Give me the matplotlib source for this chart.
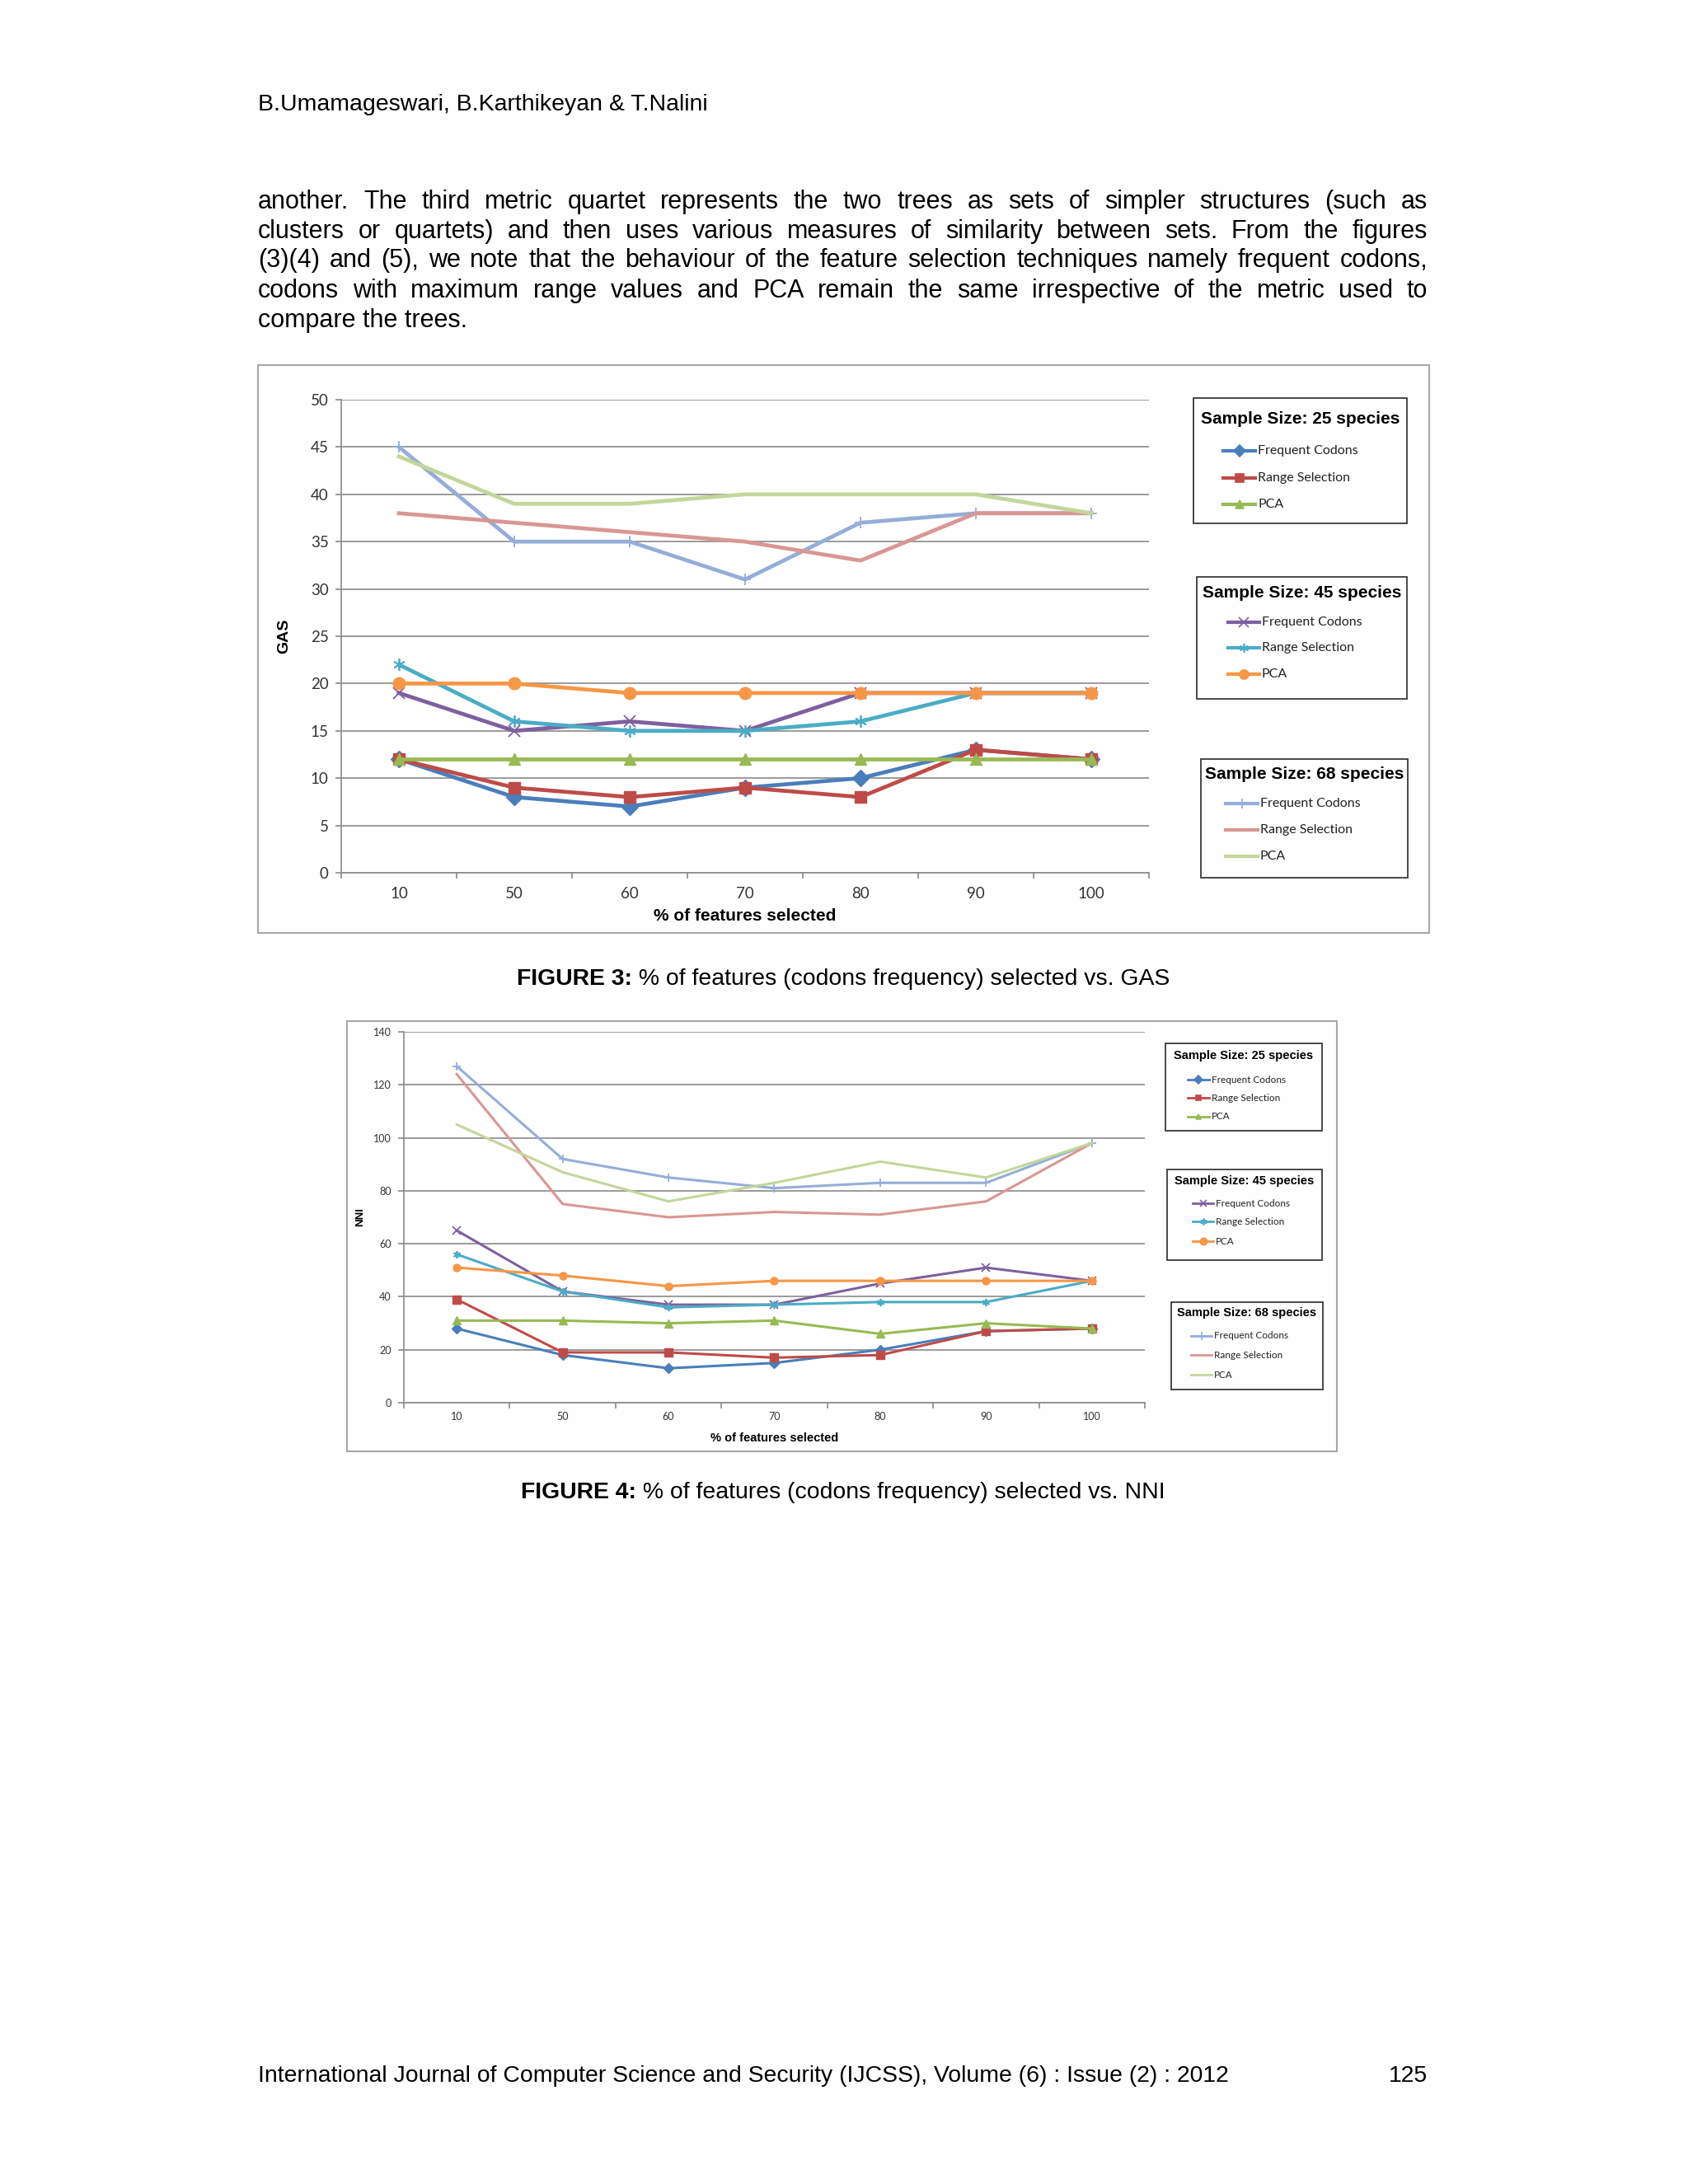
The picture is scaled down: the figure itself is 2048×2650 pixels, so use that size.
import matplotlib
matplotlib.use("Agg")
import matplotlib.pyplot as plt
from matplotlib.lines import Line2D
from matplotlib.patches import Rectangle

W, H = 2048, 2650

# ---- data ----
pct_labels = ['10', '50', '60', '70', '80', '90', '100']

gas_25_fc = [12, 8, 7, 9, 10, 13, 12]
gas_25_rs = [12, 9, 8, 9, 8, 13, 12]
gas_25_pca = [12, 12, 12, 12, 12, 12, 12]
gas_45_fc = [19, 15, 16, 15, 19, 19, 19]
gas_45_rs = [22, 16, 15, 15, 16, 19, 19]
gas_45_pca = [20, 20, 19, 19, 19, 19, 19]
gas_68_fc = [45, 35, 35, 31, 37, 38, 38]
gas_68_rs = [38, 37, 36, 35, 33, 38, 38]
gas_68_pca = [44, 39, 39, 40, 40, 40, 38]

nni_25_fc = [28, 18, 13, 15, 20, 27, 28]
nni_25_rs = [39, 19, 19, 17, 18, 27, 28]
nni_25_pca = [31, 31, 30, 31, 26, 30, 28]
nni_45_fc = [65, 42, 37, 37, 45, 51, 46]
nni_45_rs = [56, 42, 36, 37, 38, 38, 46]
nni_45_pca = [51, 48, 44, 46, 46, 46, 46]
nni_68_fc = [127, 92, 85, 81, 83, 83, 98]
nni_68_rs = [124, 75, 70, 72, 71, 76, 98]
nni_68_pca = [105, 87, 76, 83, 91, 85, 98]

method_names = ['Frequent Codons', 'Range Selection', 'PCA']
sample_titles = ['Sample Size: 25 species', 'Sample Size: 45 species', 'Sample Size: 68 species']

header = 'B.Umamageswari, B.Karthikeyan & T.Nalini'
para = [
    'another. The third metric quartet represents the two trees as sets of simpler structures (such as',
    'clusters or quartets) and then uses various measures of similarity between sets. From the figures',
    '(3)(4) and (5), we note that the behaviour of the feature selection techniques namely frequent codons,',
    'codons with maximum range values and PCA remain the same irrespective of the metric used to',
    'compare the trees.',
]
footer = 'International Journal of Computer Science and Security (IJCSS), Volume (6) : Issue (2) : 2012'
page_no = '125'

# styles: colour, marker per group
styles = [
    [('#4A7EBB', 'D'), ('#BE4B48', 's'), ('#98B954', '^')],
    [('#7D60A0', 'x'), ('#4BACC6', (6, 2, 0)), ('#F79646', 'o')],
    [('#95ADD8', '+'), ('#D99694', None), ('#C3D69B', None)],
]

BODY = ['Liberation Sans', 'DejaVu Sans']
CHART = ['Lato', 'DejaVu Sans']

fig = plt.figure(figsize=(W / 100, H / 100), dpi=100)
fig.patch.set_facecolor('#fefefe')
renderer = fig.canvas.get_renderer()


def fx(x):
    return x / W


def fy(y):
    return 1 - y / H


def text_w(t):
    return t.get_window_extent(renderer).width


def justify(line, x0, x1, y, fs):
    words = line.split()
    ts = [fig.text(0, fy(y), w, fontsize=fs, family=BODY, va='center') for w in words]
    ws = [text_w(t) for t in ts]
    gap = (x1 - x0 - sum(ws)) / (len(words) - 1)
    x = x0
    for t, w in zip(ts, ws):
        t.set_x(fx(x))
        x += w + gap


def caption(bold, rest, cx, y, fs):
    t1 = fig.text(0, fy(y), bold, fontsize=fs, family=BODY, weight='bold', va='center')
    t2 = fig.text(0, fy(y), rest, fontsize=fs, family=BODY, va='center')
    w1, w2 = text_w(t1), text_w(t2)
    x = cx - (w1 + w2) / 2
    t1.set_x(fx(x))
    t2.set_x(fx(x + w1))


def frame(x0, y0, x1, y1, color, lw):
    fig.add_artist(Rectangle((fx(x0), fy(y1)), (x1 - x0) / W, (y1 - y0) / H,
                             transform=fig.transFigure, fill=False,
                             edgecolor=color, lw=lw))


def legend_box(box, title, sty, title_y, rows, hx, tfs, fs, lw, ms):
    x0, y0, x1, y1 = box
    frame(x0, y0, x1, y1, '#3a3a3a', 1.3)
    fig.text(fx((x0 + x1) / 2), fy(title_y), title, fontsize=tfs, family=BODY,
             weight='bold', ha='center', va='center')
    for (c, m), name, ry in zip(sty, method_names, rows):
        xs = [fx(hx[0]), fx((hx[0] + hx[1]) / 2), fx(hx[1])]
        ln = Line2D(xs, [fy(ry)] * 3, transform=fig.transFigure, color=c, lw=lw,
                    marker=m, markevery=[1], markersize=ms, markeredgecolor=c,
                    markeredgewidth=1.2)
        fig.add_artist(ln)
        fig.text(fx(hx[1] + 3), fy(ry), name, fontsize=fs, family=CHART, va='center',
                 color='#222222')


def chart(rect, data, ymax, ystep, ylabel, tfs, lfs, lw, ms):
    ax = fig.add_axes(rect)
    x = range(len(pct_labels))
    for g, group in enumerate(data):
        for s, vals in enumerate(group):
            c, m = styles[g][s]
            mew = 1.3 if m in ('+', 'x', (6, 2, 0)) else 1
            ax.plot(x, vals, color=c, lw=lw, marker=m, markersize=ms,
                    markeredgecolor=c, markeredgewidth=mew, zorder=3)
    ax.set_xlim(-0.5, len(pct_labels) - 0.5)
    ax.set_ylim(0, ymax)
    ax.set_yticks(range(0, ymax + 1, ystep))
    ax.set_xticks(list(x))
    ax.set_xticklabels(pct_labels, fontsize=tfs, family=CHART, color='#333333')
    ax.set_xticks([i - 0.5 for i in range(len(pct_labels) + 1)], minor=True)
    ax.tick_params(axis='x', which='major', length=0, pad=tfs * 0.9)
    ax.tick_params(axis='x', which='minor', length=5, color='#8a8a8a', width=1.2)
    ax.tick_params(axis='y', length=5, color='#8a8a8a', width=1.2, pad=6)
    for lab in ax.get_yticklabels():
        lab.set_family(CHART)
        lab.set_fontsize(tfs)
        lab.set_color('#333333')
    ax.grid(axis='y', color='#8a8a8a', lw=1.2)
    ax.set_axisbelow(True)
    for sp in ['top', 'right']:
        ax.spines[sp].set_visible(False)
    for sp in ['left', 'bottom']:
        ax.spines[sp].set_color('#8a8a8a')
        ax.spines[sp].set_linewidth(1.2)
    ax.set_xlabel('% of features selected', fontsize=lfs, family=BODY, weight='bold')
    ax.set_ylabel(ylabel, fontsize=lfs - 1, family=BODY, weight='bold')
    return ax


# ---- page text ----
fig.text(fx(313), fy(127), header, fontsize=20.5, family=BODY, va='center')
line_ys = [245, 281, 316, 353, 389]
for i, (ln, yy) in enumerate(zip(para, line_ys)):
    if i < len(para) - 1:
        justify(ln, 313, 1732, yy, 22)
    else:
        fig.text(fx(313), fy(yy), ln, fontsize=22, family=BODY, va='center')

# ---- figure 3 ----
frame(313, 443, 1734, 1132, '#a8a8a8', 1.5)
ax1 = chart([fx(414), fy(1059), (1394 - 414) / W, (1059 - 485) / H],
            [[gas_25_fc, gas_25_rs, gas_25_pca],
             [gas_45_fc, gas_45_rs, gas_45_pca],
             [gas_68_fc, gas_68_rs, gas_68_pca]],
            50, 5, 'GAS', 13.5, 15, 3.4, 10.5)
ax1.xaxis.set_label_coords(0.5, -0.075)
ax1.yaxis.set_label_coords(-0.062, 0.5)
legend_box((1448, 483, 1707, 635), sample_titles[0], styles[0], 509, [547, 580, 612],
           (1484, 1523), 15, 11.5, 3, 7)
legend_box((1452, 700, 1707, 848), sample_titles[1], styles[1], 720, [755, 786, 818],
           (1490, 1528), 15, 11.5, 3, 8)
legend_box((1457, 921, 1708, 1065), sample_titles[2], styles[2], 940, [975, 1007, 1039],
           (1487, 1526), 15, 11.5, 3, 9)
caption('FIGURE 3:', ' % of features (codons frequency) selected vs. GAS', 1023, 1188, 20.4)

# ---- figure 4 ----
frame(421, 1239, 1622, 1761, '#a8a8a8', 1.5)
ax2 = chart([fx(490), fy(1702), (1389 - 490) / W, (1702 - 1252) / H],
            [[nni_25_fc, nni_25_rs, nni_25_pca],
             [nni_45_fc, nni_45_rs, nni_45_pca],
             [nni_68_fc, nni_68_rs, nni_68_pca]],
            140, 20, 'NNI', 9, 10.5, 2.2, 6.5)
ax2.xaxis.set_label_coords(0.5, -0.08)
ax2.yaxis.set_label_coords(-0.052, 0.5)
legend_box((1414, 1266, 1604, 1372), sample_titles[0], styles[0], 1281, [1310, 1332, 1355],
           (1441, 1467), 10.5, 8.5, 2, 5)
legend_box((1416, 1419, 1604, 1529), sample_titles[1], styles[1], 1433, [1460, 1482, 1506],
           (1447, 1472), 10.5, 8.5, 2, 6)
legend_box((1421, 1580, 1605, 1686), sample_titles[2], styles[2], 1593, [1621, 1644, 1668],
           (1445, 1470), 10.5, 8.5, 2, 7)
caption('FIGURE 4:', ' % of features (codons frequency) selected vs. NNI', 1023, 1811, 20.4)

# ---- footer ----
fig.text(fx(313), fy(2519), footer, fontsize=20.4, family=BODY, va='center')
fig.text(fx(1732), fy(2519), page_no, fontsize=20.4, family=BODY, va='center', ha='right')

fig.savefig('out.png', dpi=100, facecolor=fig.get_facecolor())
